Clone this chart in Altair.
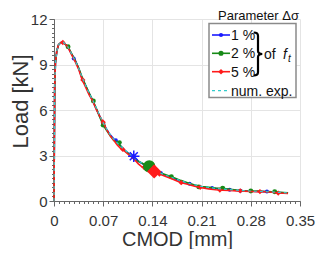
import altair as alt
import pandas as pd

# ---- data ----
cmod = [0, 0.0005, 0.001, 0.002, 0.004, 0.0065, 0.01, 0.013, 0.017, 0.02, 0.025, 0.03, 0.035,
        0.04, 0.045, 0.05, 0.055, 0.06, 0.065, 0.07, 0.075, 0.08, 0.085, 0.09, 0.095, 0.1,
        0.105, 0.11, 0.115, 0.12, 0.125, 0.13, 0.135, 0.14, 0.145, 0.15, 0.16, 0.17, 0.18,
        0.19, 0.2, 0.21, 0.22, 0.23, 0.24, 0.25, 0.26, 0.27, 0.28, 0.29, 0.3, 0.31, 0.32, 0.333]
load_num = [0, 4.0, 7.5, 9.1, 9.9, 10.3, 10.45, 10.47, 10.32, 10.15, 9.7, 9.25, 8.75,
            8.15, 7.6, 7.1, 6.65, 6.15, 5.65, 5.15, 4.75, 4.38, 4.08, 3.83, 3.6, 3.4,
            3.2, 3.0, 2.82, 2.65, 2.5, 2.36, 2.22, 2.1, 1.98, 1.87, 1.68, 1.52, 1.34,
            1.19, 1.06, 0.96, 0.89, 0.83, 0.79, 0.75, 0.71, 0.68, 0.66, 0.64, 0.62, 0.6, 0.57, 0.53]
load_1 = [0, 4.0, 7.5, 9.1, 9.9, 10.3, 10.45, 10.46, 10.3, 10.13, 9.7, 9.3, 8.75,
          8.1, 7.6, 7.1, 6.6, 6.1, 5.6, 5.1, 4.72, 4.36, 4.1, 3.88, 3.62, 3.38,
          3.18, 2.98, 2.8, 2.62, 2.48, 2.34, 2.2, 2.08, 1.96, 1.85, 1.66, 1.5, 1.32,
          1.17, 1.04, 0.94, 0.87, 0.82, 0.78, 0.75, 0.7, 0.67, 0.64, 0.63, 0.62, 0.6, 0.56, 0.52]
load_2 = [0, 4.0, 7.5, 9.1, 9.9, 10.3, 10.45, 10.46, 10.3, 10.17, 9.72, 9.27, 8.78,
          8.15, 7.62, 7.12, 6.65, 6.12, 5.55, 5.0, 4.65, 4.3, 4.0, 3.85, 3.62, 3.35,
          3.15, 2.95, 2.78, 2.62, 2.5, 2.38, 2.3, 2.15, 2.0, 1.88, 1.72, 1.55, 1.36,
          1.2, 1.05, 0.95, 0.9, 0.86, 0.84, 0.78, 0.72, 0.68, 0.66, 0.65, 0.63, 0.61, 0.58, 0.54]
load_5 = [0, 4.0, 7.5, 9.1, 9.9, 10.3, 10.45, 10.47, 10.3, 10.12, 9.65, 9.2, 8.7,
          8.0, 7.5, 7.0, 6.6, 6.05, 5.6, 5.2, 4.7, 4.3, 4.0, 3.7, 3.45, 3.3,
          3.1, 2.92, 2.7, 2.45, 2.25, 2.2, 2.1, 2.0, 1.93, 1.78, 1.6, 1.42, 1.22,
          1.1, 0.98, 0.88, 0.8, 0.74, 0.71, 0.7, 0.67, 0.65, 0.63, 0.62, 0.61, 0.58, 0.53, 0.5]

mk1_x = [0.028, 0.07, 0.088, 0.152, 0.193, 0.225, 0.25, 0.265, 0.303]
mk1_y = [9.4, 5.1, 4.0, 1.84, 1.14, 0.86, 0.75, 0.68, 0.62]
mk2_x = [0.02, 0.056, 0.07, 0.093, 0.167, 0.206, 0.24, 0.28, 0.314]
mk2_y = [10.17, 6.6, 5.0, 3.85, 1.6, 0.93, 0.85, 0.66, 0.61]
mk5_x = [0.0126, 0.041, 0.07, 0.098, 0.128, 0.15, 0.181, 0.208, 0.236, 0.265, 0.293, 0.319]
mk5_y = [10.45, 7.98, 5.2, 3.4, 2.22, 1.78, 1.21, 0.9, 0.72, 0.67, 0.62, 0.52]

big_x = [0.1135, 0.1355, 0.1425]
big_y = [2.95, 2.28, 1.95]

x_major = [0, 0.07, 0.14, 0.21, 0.28, 0.35]
x_minor = [round(i * 0.007, 3) for i in range(51)]
y_major = [0, 3, 6, 9, 12]
y_minor = [round(i * 0.3, 1) for i in range(41)]

FONT = "Liberation Sans"
BLUE, GREEN, RED, CYAN = "#1a1aff", "#178a17", "#ff1a1a", "#33cccc"
AX = "#666666"
TXT = "#333333"

xs = alt.Scale(domain=[0, 0.35], nice=False)
ys = alt.Scale(domain=[0, 12], nice=False)

x_major_axis = alt.Axis(
    orient="bottom", values=x_major,
    labelExpr="format(datum.value, '.2f') == '0.00' ? '0' : format(datum.value, '.2f')",
    labelOverlap=False, labelFontSize=15, labelFont=FONT, labelColor=TXT,
    labelPadding=7, labelFlush=False, tickSize=5, tickColor=AX, domainColor=AX,
    grid=True, gridColor="#e4e4e4",
    title="CMOD [mm]", titleFontSize=20, titleFont=FONT, titleFontWeight="normal",
    titleColor=TXT, titleBaseline="alphabetic", titleY=44, titleX=123,
)
x_minor_axis = alt.Axis(
    orient="bottom", values=x_minor, labels=False, tickSize=2.5, tickColor=AX,
    domain=False, grid=False, title=None,
)
y_major_axis = alt.Axis(
    orient="left", values=y_major, format="d",
    labelOverlap=False, labelFontSize=15, labelFont=FONT, labelColor=TXT,
    labelPadding=2, labelFlush=False, tickSize=5, tickColor=AX, domainColor=AX,
    grid=True, gridColor="#e4e4e4",
    title="Load [kN]", titleFontSize=22, titleFont=FONT, titleFontWeight="normal",
    titleColor=TXT, titleBaseline="alphabetic", titleX=-27, titleY=82, titleAngle=-90,
)
y_minor_axis = alt.Axis(
    orient="left", values=y_minor, labels=False, tickSize=2.5, tickColor=AX,
    domain=False, grid=False, title=None,
)


def line_df(y):
    return pd.DataFrame({"x": cmod, "y": y})


minor_layer = alt.Chart(line_df(load_1)).mark_line(opacity=0).encode(
    x=alt.X("x:Q", scale=xs, axis=x_minor_axis),
    y=alt.Y("y:Q", scale=ys, axis=y_minor_axis),
)
major_layer = alt.Chart(line_df(load_1)).mark_line(opacity=0).encode(
    x=alt.X("x:Q", scale=xs, axis=x_major_axis),
    y=alt.Y("y:Q", scale=ys, axis=y_major_axis),
)

XN = dict(scale=xs, axis=None)
YN = dict(scale=ys, axis=None)


def series_line(y, color, width=1.6, dash=None):
    kw = dict(color=color, strokeWidth=width)
    if dash:
        kw["strokeDash"] = dash
    return alt.Chart(line_df(y)).mark_line(**kw).encode(
        x=alt.X("x:Q", **XN), y=alt.Y("y:Q", **YN))


def series_pts(mx, my, color, shape, size):
    return alt.Chart(pd.DataFrame({"x": mx, "y": my})).mark_point(
        shape=shape, filled=True, color=color, size=size, opacity=1).encode(
        x=alt.X("x:Q", **XN), y=alt.Y("y:Q", **YN))


asterisk = "M -1 0 L 1 0 M 0 -1 L 0 1 M -0.7 -0.7 L 0.7 0.7 M -0.7 0.7 L 0.7 -0.7"
big_df = pd.DataFrame({"x": big_x, "y": big_y})
big_star = alt.Chart(big_df.iloc[[0]]).mark_point(
    shape=asterisk, filled=False, color=BLUE, size=130, strokeWidth=1.5, opacity=1).encode(
    x=alt.X("x:Q", **XN), y=alt.Y("y:Q", **YN))
big_circ = alt.Chart(big_df.iloc[[1]]).mark_point(
    shape="circle", filled=True, color=GREEN, size=150, opacity=1).encode(
    x=alt.X("x:Q", **XN), y=alt.Y("y:Q", **YN))
big_diam = alt.Chart(big_df.iloc[[2]]).mark_point(
    shape="diamond", filled=True, color=RED, size=200, opacity=1).encode(
    x=alt.X("x:Q", **XN), y=alt.Y("y:Q", **YN))

# ---- legend (drawn by hand) ----
one = pd.DataFrame({"a": [0]})
L = []
L.append(alt.Chart(one).mark_rect(fill="white", stroke="#8a8a8a", strokeWidth=1.5).encode(
    x=alt.value(155), x2=alt.value(242), y=alt.value(4.5), y2=alt.value(78.5)))
rows = [(16, BLUE, "1 %", "circle", 18), (34.3, GREEN, "2 %", "circle", 26),
        (52.7, RED, "5 %", "diamond", 30)]
for yy, col, lab, shp, sz in rows:
    L.append(alt.Chart(one).mark_rule(color=col, strokeWidth=1.6).encode(
        x=alt.value(158), x2=alt.value(176), y=alt.value(yy)))
    L.append(alt.Chart(one).mark_point(shape=shp, filled=True, color=col, size=sz, opacity=1).encode(
        x=alt.value(167), y=alt.value(yy)))
    L.append(alt.Chart(one).mark_text(text=lab, font=FONT, fontSize=14, align="left",
                                      baseline="middle", color="#111111").encode(
        x=alt.value(177), y=alt.value(yy + 1)))
L.append(alt.Chart(one).mark_rule(color=CYAN, strokeWidth=1.2, strokeDash=[3, 3]).encode(
    x=alt.value(158), x2=alt.value(176), y=alt.value(71.7)))
L.append(alt.Chart(one).mark_text(text="num. exp.", font=FONT, fontSize=14, align="left",
                                  baseline="middle", color="#111111").encode(
    x=alt.value(177), y=alt.value(72.7)))
brace = "M -0.2 -1 Q 0 -1 0 -0.85 L 0 -0.15 Q 0 0 0.2 0 Q 0 0 0 0.15 L 0 0.85 Q 0 1 -0.2 1"
L.append(alt.Chart(one).mark_point(shape=brace, filled=False, color="black", size=1850,
                                   strokeWidth=2.2, opacity=1).encode(
    x=alt.value(204), y=alt.value(35)))
L.append(alt.Chart(one).mark_text(text="of", font=FONT, fontSize=14, align="left",
                                  baseline="middle", color="#111111").encode(
    x=alt.value(210), y=alt.value(36)))
L.append(alt.Chart(one).mark_text(text="f", font=FONT, fontSize=14, fontStyle="italic",
                                  align="left", baseline="middle", color="#111111").encode(
    x=alt.value(229), y=alt.value(36)))
L.append(alt.Chart(one).mark_text(text="t", font=FONT, fontSize=10, fontStyle="italic",
                                  align="left", baseline="middle", color="#111111").encode(
    x=alt.value(234), y=alt.value(40)))
L.append(alt.Chart(one).mark_text(text="Parameter Δσ", font=FONT, fontSize=13, align="right",
                                  baseline="alphabetic", color="#111111").encode(
    x=alt.value(245), y=alt.value(1)))

chart = alt.layer(
    minor_layer,
    major_layer,
    series_line(load_1, BLUE),
    series_pts(mk1_x, mk1_y, BLUE, "circle", 16),
    series_line(load_2, GREEN),
    series_pts(mk2_x, mk2_y, GREEN, "circle", 24),
    series_line(load_5, RED),
    series_pts(mk5_x, mk5_y, RED, "diamond", 28),
    series_line(load_num, CYAN, width=1.2, dash=[3, 3]),
    big_star, big_circ, big_diam,
    *L,
).resolve_axis(x="independent", y="independent").properties(
    width=246, height=182,
    autosize=alt.AutoSizeParams(type="none"),
    padding={"left": 46, "top": 11, "right": 24, "bottom": 48},
).configure_view(stroke=None)

chart.save("out.html", embed_options={"renderer": "svg", "actions": False})
